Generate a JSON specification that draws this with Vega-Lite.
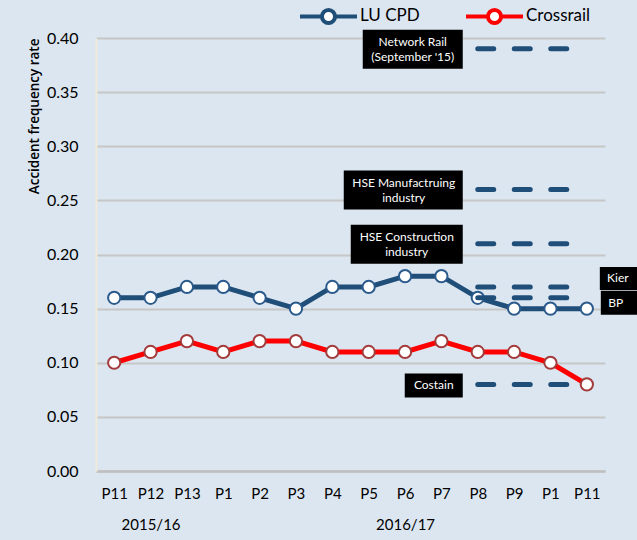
{
  "$schema": "https://vega.github.io/schema/vega-lite/v6.json",
  "width": 509,
  "height": 433,
  "autosize": {"type": "none"},
  "padding": {"left": 96, "top": 38, "right": 32, "bottom": 69},
  "background": "#dce6f1",
  "config": {"view": {"stroke": null}, "font": "Lato"},
  "datasets": {
    "series": [
      {"period": "P11", "series": "LU CPD", "value": 0.16},
      {"period": "P12", "series": "LU CPD", "value": 0.16},
      {"period": "P13", "series": "LU CPD", "value": 0.17},
      {"period": "P1", "series": "LU CPD", "value": 0.17},
      {"period": "P2", "series": "LU CPD", "value": 0.16},
      {"period": "P3", "series": "LU CPD", "value": 0.15},
      {"period": "P4", "series": "LU CPD", "value": 0.17},
      {"period": "P5", "series": "LU CPD", "value": 0.17},
      {"period": "P6", "series": "LU CPD", "value": 0.18},
      {"period": "P7", "series": "LU CPD", "value": 0.18},
      {"period": "P8", "series": "LU CPD", "value": 0.16},
      {"period": "P9", "series": "LU CPD", "value": 0.15},
      {"period": "P1 ", "series": "LU CPD", "value": 0.15},
      {"period": "P11 ", "series": "LU CPD", "value": 0.15},
      {"period": "P11", "series": "Crossrail", "value": 0.10},
      {"period": "P12", "series": "Crossrail", "value": 0.11},
      {"period": "P13", "series": "Crossrail", "value": 0.12},
      {"period": "P1", "series": "Crossrail", "value": 0.11},
      {"period": "P2", "series": "Crossrail", "value": 0.12},
      {"period": "P3", "series": "Crossrail", "value": 0.12},
      {"period": "P4", "series": "Crossrail", "value": 0.11},
      {"period": "P5", "series": "Crossrail", "value": 0.11},
      {"period": "P6", "series": "Crossrail", "value": 0.11},
      {"period": "P7", "series": "Crossrail", "value": 0.12},
      {"period": "P8", "series": "Crossrail", "value": 0.11},
      {"period": "P9", "series": "Crossrail", "value": 0.11},
      {"period": "P1 ", "series": "Crossrail", "value": 0.10},
      {"period": "P11 ", "series": "Crossrail", "value": 0.08}
    ],
    "bench": [
      {"name": "Network Rail", "label": "Network Rail\n(September '15)", "value": 0.39, "from": "P8", "to": "P11 "},
      {"name": "HSE Manufacturing", "label": "HSE Manufactruing\nindustry", "value": 0.26, "from": "P8", "to": "P11 "},
      {"name": "HSE Construction", "label": "HSE Construction\nindustry", "value": 0.21, "from": "P8", "to": "P11 "},
      {"name": "Kier", "label": "Kier", "value": 0.17, "from": "P8", "to": "P11 "},
      {"name": "BP", "label": "BP", "value": 0.16, "from": "P8", "to": "P11 "},
      {"name": "Costain", "label": "Costain", "value": 0.08, "from": "P8", "to": "P11 "}
    ]
  },
  "layer": [
    {
      "data": {"name": "series"},
      "mark": {"type": "line", "strokeWidth": 5},
      "encoding": {
        "x": {
          "field": "period", "type": "ordinal",
          "scale": {"type": "point", "padding": 0.5, "domain": ["P11", "P12", "P13", "P1", "P2", "P3", "P4", "P5", "P6", "P7", "P8", "P9", "P1 ", "P11 "]},
          "axis": {
            "title": null, "labelAngle": 0, "labelFontSize": 15, "labelPadding": 15, "labelColor": "#000000",
            "ticks": false, "domainColor": "#bfbfbf", "domainWidth": 2.5, "labelLineHeight": 31,
            "labelExpr": "trim(datum.label) == 'P12' ? ['P12', '2015/16'] : trim(datum.label) == 'P6' ? ['P6', '2016/17'] : trim(datum.label)"
          }
        },
        "y": {
          "field": "value", "type": "quantitative",
          "scale": {"domain": [0, 0.4], "nice": false},
          "axis": {
            "title": "Accident frequency rate", "titleFont": "Open Sans", "titleFontSize": 13.5, "titleFontWeight": 600, "titleColor": "#000000",
            "titleAnchor": "end", "titlePadding": 5,
            "values": [0, 0.05, 0.1, 0.15, 0.2, 0.25, 0.3, 0.35, 0.4], "format": ".2f",
            "labelFontSize": 16, "labelPadding": 18, "labelColor": "#000000", "ticks": false,
            "gridColor": "#c6c6c6", "gridWidth": 2, "domainColor": "#efeadb", "domainWidth": 2
          }
        },
        "color": {
          "field": "series", "type": "nominal",
          "scale": {"domain": ["LU CPD", "Crossrail"], "range": ["#1f4e79", "#ff0000"]},
          "legend": {
            "title": null, "orient": "none", "legendX": 202, "legendY": -52.5, "direction": "horizontal",
            "padding": 0, "symbolType": "M-1,0H-0.23M0.23,0H1M-0.23,0A0.23,0.23 0 1,0 0.23,0A0.23,0.23 0 1,0 -0.23,0",
            "symbolSize": 3249, "symbolStrokeWidth": 4, "symbolFillColor": "white",
            "labelFontSize": 17, "labelOffset": 1, "columnPadding": 38, "labelColor": "#000000",
            "encode": {"symbols": {"update": {"fill": {"value": "white"}, "strokeWidth": {"value": 4}, "opacity": {"value": 1}}}}
          }
        }
      }
    },
    {
      "data": {"name": "series"},
      "mark": {"type": "point", "filled": false, "fill": "white", "fillOpacity": 1, "opacity": 1, "size": 150, "strokeWidth": 2},
      "encoding": {
        "x": {"field": "period", "type": "ordinal"},
        "y": {"field": "value", "type": "quantitative"},
        "stroke": {
          "field": "series", "type": "nominal",
          "scale": {"domain": ["LU CPD", "Crossrail"], "range": ["#2b5a8c", "#a33b3b"]},
          "legend": null
        }
      }
    },
    {
      "data": {"name": "bench"},
      "mark": {"type": "rule", "color": "#1f4e79", "strokeWidth": 5, "strokeDash": [16, 20.5], "strokeCap": "round"},
      "encoding": {
        "x": {"field": "from", "type": "ordinal"},
        "x2": {"field": "to"},
        "y": {"field": "value", "type": "quantitative"}
      }
    },
    {
      "data": {"name": "bench"},
      "transform": [{"filter": "datum.name === 'Network Rail'"}],
      "encoding": {
        "x": {"field": "from", "type": "ordinal"},
        "y": {"field": "value", "type": "quantitative"}
      },
      "layer": [
        {"mark": {"type": "rect", "color": "#000000", "xOffset": -115, "x2Offset": -15, "yOffset": -19, "y2Offset": 20},
         "encoding": {"x2": {"field": "from"}, "y2": {"field": "value"}}},
        {"mark": {"type": "text", "color": "white", "fontSize": 12, "lineBreak": "\n", "lineHeight": 15, "dx": -65, "dy": -6.5},
         "encoding": {"text": {"field": "label"}}}
      ]
    },
    {
      "data": {"name": "bench"},
      "transform": [{"filter": "datum.name === 'HSE Manufacturing'"}],
      "encoding": {
        "x": {"field": "from", "type": "ordinal"},
        "y": {"field": "value", "type": "quantitative"}
      },
      "layer": [
        {"mark": {"type": "rect", "color": "#000000", "xOffset": -134, "x2Offset": -15, "yOffset": -19, "y2Offset": 20},
         "encoding": {"x2": {"field": "from"}, "y2": {"field": "value"}}},
        {"mark": {"type": "text", "color": "white", "fontSize": 12, "lineBreak": "\n", "lineHeight": 15, "dx": -74, "dy": -6.5},
         "encoding": {"text": {"field": "label"}}}
      ]
    },
    {
      "data": {"name": "bench"},
      "transform": [{"filter": "datum.name === 'HSE Construction'"}],
      "encoding": {
        "x": {"field": "from", "type": "ordinal"},
        "y": {"field": "value", "type": "quantitative"}
      },
      "layer": [
        {"mark": {"type": "rect", "color": "#000000", "xOffset": -127, "x2Offset": -15, "yOffset": -19, "y2Offset": 20},
         "encoding": {"x2": {"field": "from"}, "y2": {"field": "value"}}},
        {"mark": {"type": "text", "color": "white", "fontSize": 12, "lineBreak": "\n", "lineHeight": 15, "dx": -71, "dy": -6.5},
         "encoding": {"text": {"field": "label"}}}
      ]
    },
    {
      "data": {"name": "bench"},
      "transform": [{"filter": "datum.name === 'Costain'"}],
      "encoding": {
        "x": {"field": "from", "type": "ordinal"},
        "y": {"field": "value", "type": "quantitative"}
      },
      "layer": [
        {"mark": {"type": "rect", "color": "#000000", "xOffset": -73, "x2Offset": -15, "yOffset": -11, "y2Offset": 13},
         "encoding": {"x2": {"field": "from"}, "y2": {"field": "value"}}},
        {"mark": {"type": "text", "color": "white", "fontSize": 12, "dx": -44, "dy": 1},
         "encoding": {"text": {"field": "label"}}}
      ]
    },
    {
      "data": {"name": "bench"},
      "transform": [{"filter": "datum.name === 'Kier'"}],
      "encoding": {
        "x": {"field": "to", "type": "ordinal"},
        "y": {"field": "value", "type": "quantitative"}
      },
      "layer": [
        {"mark": {"type": "rect", "color": "#000000", "xOffset": 13, "x2Offset": 54, "yOffset": -20, "y2Offset": 3},
         "encoding": {"x2": {"field": "to"}, "y2": {"field": "value"}}},
        {"mark": {"type": "text", "color": "white", "fontSize": 12, "dx": 31, "dy": -9},
         "encoding": {"text": {"field": "label"}}}
      ]
    },
    {
      "data": {"name": "bench"},
      "transform": [{"filter": "datum.name === 'BP'"}],
      "encoding": {
        "x": {"field": "to", "type": "ordinal"},
        "y": {"field": "value", "type": "quantitative"}
      },
      "layer": [
        {"mark": {"type": "rect", "color": "#000000", "xOffset": 14, "x2Offset": 54, "yOffset": -7, "y2Offset": 17},
         "encoding": {"x2": {"field": "to"}, "y2": {"field": "value"}}},
        {"mark": {"type": "text", "color": "white", "fontSize": 12, "dx": 29, "dy": 5},
         "encoding": {"text": {"field": "label"}}}
      ]
    }
  ]
}
